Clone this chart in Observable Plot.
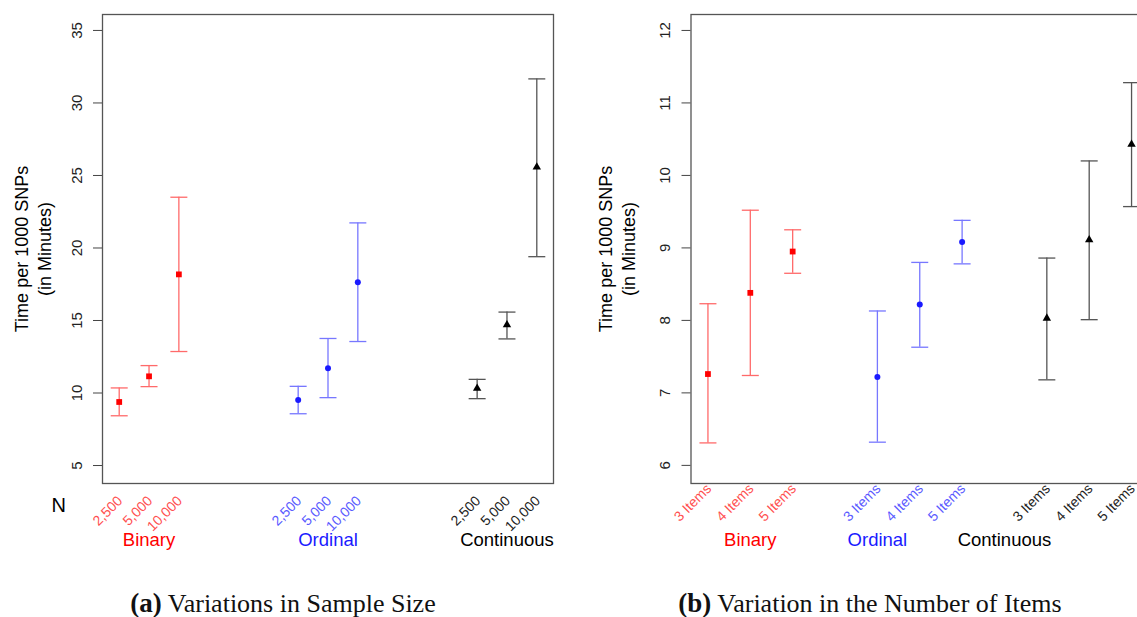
<!DOCTYPE html>
<html>
<head>
<meta charset="utf-8">
<script src="https://cdn.jsdelivr.net/npm/d3@7"></script>
<script src="https://cdn.jsdelivr.net/npm/@observablehq/plot@0.6"></script>
<style>
  html, body { margin: 0; padding: 0; background: #fff; overflow: hidden; }
  #wrap { position: relative; width: 1137px; height: 617px; overflow: hidden; }
  .panel { position: absolute; top: 0; }
  .panel svg { max-width: none !important; }
  .cap { position: absolute; top: 590px; font-family: "Liberation Serif", "DejaVu Serif", serif; font-size: 26px; line-height: 26px; color: #111; white-space: nowrap; transform: translateX(-50%); }
  .cap b { font-size: 27px; }
</style>
</head>
<body>
<div id="wrap">
  <div id="left" class="panel" style="left:0px; width:568px"></div>
  <div id="right" class="panel" style="left:568px; width:592px"></div>
  <div class="cap" style="left:283px"><b>(a)</b> Variations in Sample Size</div>
  <div class="cap" style="left:870px"><b>(b)</b> Variation in the Number of Items</div>
</div>
<script>
// ---------- Data ----------
const groups = ["Binary", "Ordinal", "Continuous"];
const groupColors = ["#ff0000", "#1a1aff", "#000000"];
const barColors = ["#ff6a6a", "#7777ff", "#555555"];
const tickColors = ["#ff5050", "#5a5aff", "#222222"];
const symbols = ["square", "circle", "triangle"];

// Panel (a): variations in sample size
const sampleSizes = ["2,500", "5,000", "10,000"];
const aPos = [[1, 2, 3], [7, 8, 9], [13, 14, 15]];
const aMean = [[9.38, 11.15, 18.18], [9.52, 11.71, 17.63], [10.32, 14.70, 25.58]];
const aLow  = [[8.43, 10.44, 12.86], [8.57, 9.68, 13.55], [9.61, 13.73, 19.40]];
const aHigh = [[10.35, 11.89, 23.50], [10.46, 13.76, 21.73], [10.94, 15.58, 31.66]];
const aYTicks = [5, 10, 15, 20, 25, 30, 35];
const aGroupPos = [2, 8, 14];

// Panel (b): variation in the number of items
const itemLabels = ["3 Items", "4 Items", "5 Items"];
const bPos = [[1, 2, 3], [5, 6, 7], [9, 10, 11]];
const bMean = [[7.26, 8.38, 8.95], [7.22, 8.22, 9.08], [8.03, 9.11, 10.43]];
const bLow  = [[6.31, 7.24, 8.65], [6.32, 7.63, 8.78], [7.18, 8.01, 9.57]];
const bHigh = [[8.23, 9.52, 9.25], [8.13, 8.80, 9.38], [8.86, 10.20, 11.28]];
const bYTicks = [6, 7, 8, 9, 10, 11, 12];
const bGroupPos = [2, 5, 8];

const yLabel = "Time per 1000 SNPs\n(in Minutes)";

// ---------- Helpers ----------
function table(pos, mean, low, high, labels) {
  const rows = [];
  groups.forEach((g, gi) => {
    labels.forEach((lab, li) => {
      rows.push({group: g, gi, label: lab, pos: pos[gi][li], mean: mean[gi][li], low: low[gi][li], high: high[gi][li]});
    });
  });
  return rows;
}

const capSymbol = {
  draw(context, size) {
    const w = Math.sqrt(size / Math.PI);
    context.moveTo(-w, 0);
    context.lineTo(w, 0);
  }
};

const sans = "'Liberation Sans', Arial, Helvetica, sans-serif";

function panel(opts) {
  const rows = table(opts.pos, opts.mean, opts.low, opts.high, opts.labels);
  const groupRows = groups.map((g, i) => ({group: g, gi: i, pos: opts.groupPos[i]}));
  const marks = [
    Plot.frame({stroke: "#555", strokeWidth: 1.3}),
    Plot.axisY({ticks: opts.yTicks, tickFormat: "d", tickSize: 9, tickRotate: -90, tickPadding: 12, fontSize: 15, stroke: "#444", fill: "#222", label: null}),
    Plot.ruleX(rows, {x: "pos", y1: "low", y2: "high", stroke: d => barColors[d.gi], strokeWidth: 1.3}),
    Plot.dot(rows, {x: "pos", y: "low", symbol: () => capSymbol, r: 8.5, stroke: d => barColors[d.gi], strokeWidth: 1.3, fill: "none"}),
    Plot.dot(rows, {x: "pos", y: "high", symbol: () => capSymbol, r: 8.5, stroke: d => barColors[d.gi], strokeWidth: 1.3, fill: "none"}),
    Plot.dot(rows, {x: "pos", y: "mean", symbol: d => symbols[d.gi], r: d => d.gi === 0 ? 3.9 : (d.gi === 1 ? 3.3 : 3.6), fill: d => groupColors[d.gi], stroke: "none"}),
    Plot.text(rows, {x: "pos", frameAnchor: "bottom", text: "label", rotate: -45, textAnchor: "end", lineAnchor: "middle", dx: 1, dy: opts.tickDy, fontSize: 14, fill: d => tickColors[d.gi]}),
    Plot.text(groupRows, {x: "pos", frameAnchor: "bottom", text: "group", dy: 57, fontSize: 18.5, fill: d => groupColors[d.gi], lineAnchor: "middle", textAnchor: "middle"}),
    Plot.text([yLabel], {frameAnchor: "left", text: d => d, rotate: -90, dx: opts.yLabelDx, fontSize: 18, fill: "#000", textAnchor: "middle", lineAnchor: "middle", lineHeight: 1.28})
  ];
  if (opts.extra) marks.push(...opts.extra);
  return Plot.plot({
    width: opts.width,
    height: 560,
    marginLeft: opts.marginLeft,
    marginRight: opts.marginRight,
    marginTop: 14,
    marginBottom: 77,
    style: {fontFamily: sans, background: "transparent", overflow: "visible", maxWidth: "none"},
    x: {domain: opts.xDomain, axis: null},
    y: {domain: opts.yDomain, axis: null},
    marks
  });
}

document.getElementById("left").append(panel({
  width: 568, marginLeft: 102, marginRight: 15,
  pos: aPos, mean: aMean, low: aLow, high: aHigh, labels: sampleSizes,
  yTicks: aYTicks, groupPos: aGroupPos,
  xDomain: [0.44, 15.56], yDomain: [3.76, 36.1],
  tickDy: 15, yLabelDx: -70.5,
  extra: [Plot.text(["N"], {frameAnchor: "bottom-left", text: d => d, dx: -51, dy: 22, fontSize: 20, fill: "#000", textAnchor: "start", lineAnchor: "middle"})]
}));

document.getElementById("right").append(panel({
  width: 592, marginLeft: 122.5, marginRight: 12,
  pos: bPos, mean: bMean, low: bLow, high: bHigh, labels: itemLabels,
  yTicks: bYTicks, groupPos: bGroupPos,
  xDomain: [0.6, 11.4], yDomain: [5.75, 12.22],
  tickDy: 3, yLabelDx: -74.5
}));
</script>
</body>
</html>
